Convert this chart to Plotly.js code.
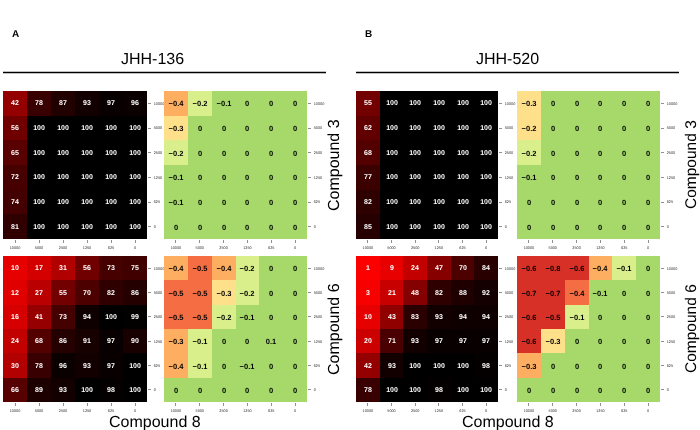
<!DOCTYPE html>
<html>
<head>
<meta charset="utf-8">
<script src="https://cdn.plot.ly/plotly-3.0.1.min.js"></script>
<style>
html,body{margin:0;padding:0;background:#fff;}
#chart{width:700px;height:430px;}
#chart .svg-container{will-change:transform;}
#chart svg text{text-rendering:geometricPrecision;}
</style>
</head>
<body>
<div id="chart"></div>
<script>
// ---- DATA ----
const doses = ['10000','5000','2500','1250','625','0'];   // tick labels (both axes)
const cellLines = ['JHH-136','JHH-520'];
const panelLetters = ['A','B'];
const rowCompounds = ['Compound 3','Compound 6'];
const colCompound = 'Compound 8';

// % inhibition (rows: Compound 3/6 dose from 10000 to 0, cols: Compound 8 dose 10000 to 0)
const viabA3 = [[42,78,87,93,97,96],[56,100,100,100,100,100],[65,100,100,100,100,100],[72,100,100,100,100,100],[74,100,100,100,100,100],[81,100,100,100,100,100]];
const viabA6 = [[10,17,31,56,73,75],[12,27,55,70,82,86],[16,41,73,94,100,99],[24,68,86,91,97,90],[30,78,96,93,97,100],[66,89,93,100,98,100]];
const viabB3 = [[55,100,100,100,100,100],[62,100,100,100,100,100],[68,100,100,100,100,100],[77,100,100,100,100,100],[82,100,100,100,100,100],[85,100,100,100,100,100]];
const viabB6 = [[1,9,24,47,70,84],[3,21,48,82,88,92],[10,43,83,93,94,94],[20,71,93,97,97,97],[42,93,100,100,100,98],[78,100,100,98,100,100]];

// synergy scores (printed values)
const synA3 = [[-0.4,-0.2,-0.1,0,0,0],[-0.3,0,0,0,0,0],[-0.2,0,0,0,0,0],[-0.1,0,0,0,0,0],[-0.1,0,0,0,0,0],[0,0,0,0,0,0]];
const synA6 = [[-0.4,-0.5,-0.4,-0.2,0,0],[-0.5,-0.5,-0.3,-0.2,0,0],[-0.5,-0.5,-0.2,-0.1,0,0],[-0.3,-0.1,0,0,0.1,0],[-0.4,-0.1,0,-0.1,0,0],[0,0,0,0,0,0]];
const synB3 = [[-0.3,0,0,0,0,0],[-0.2,0,0,0,0,0],[-0.2,0,0,0,0,0],[-0.1,0,0,0,0,0],[0,0,0,0,0,0],[0,0,0,0,0,0]];
const synB6 = [[-0.6,-0.8,-0.6,-0.4,-0.1,0],[-0.7,-0.7,-0.4,-0.1,0,0],[-0.6,-0.5,-0.1,0,0,0],[-0.6,-0.3,0,0,0,0],[-0.3,0,0,0,0,0],[0,0,0,0,0,0]];

// synergy colour class (0 = red ... 5 = green)
const synBinA3 = [[2,4,5,5,5,5],[3,5,5,5,5,5],[4,5,5,5,5,5],[5,5,5,5,5,5],[5,5,5,5,5,5],[5,5,5,5,5,5]];
const synBinA6 = [[2,1,2,4,5,5],[1,1,3,4,5,5],[1,1,4,5,5,5],[2,4,5,5,5,5],[2,4,5,5,5,5],[5,5,5,5,5,5]];
const synBinB3 = [[3,5,5,5,5,5],[3,5,5,5,5,5],[4,5,5,5,5,5],[5,5,5,5,5,5],[5,5,5,5,5,5],[5,5,5,5,5,5]];
const synBinB6 = [[0,0,0,2,4,5],[0,0,1,5,5,5],[0,0,4,5,5,5],[0,3,5,5,5,5],[2,5,5,5,5,5],[5,5,5,5,5,5]];

const synColors = ['#d73027','#f46d43','#fdae61','#fee08b','#d9ef8b','#a6d96a'];

// ---- LAYOUT HELPERS ----
const W = 700, H = 430;
const px = v => v / W;
const py = v => 1 - v / H;

const panels = [
  {viabX:[3,147], synX:[164,307], viab:[viabA3, viabA6], syn:[synA3, synA6], bins:[synBinA3, synBinA6]},
  {viabX:[356,498], synX:[517,660], viab:[viabB3, viabB6], syn:[synB3, synB6], bins:[synBinB3, synBinB6]}
];
const rowsY = [[91,239],[256,402]];

const fmtSyn = v => v === 0 ? '0' : (v < 0 ? '\u2212' + Math.abs(v) : String(v));

const synScale = [];
synColors.forEach((c, i) => {
  synScale.push([i / synColors.length, c]);
  synScale.push([(i + 1) / synColors.length, c]);
});

const traces = [];
const layout = {
  width: W, height: H,
  margin: {l:0, r:0, t:0, b:0},
  paper_bgcolor: '#fff', plot_bgcolor: '#fff',
  showlegend: false,
  font: {family: 'Liberation Sans, Arial, sans-serif', color: '#000'},
  annotations: [], shapes: []
};

let axN = 0;
function addAxis(xd, yd, trace) {
  axN++;
  const xk = axN === 1 ? 'xaxis' : 'xaxis' + axN;
  const yk = axN === 1 ? 'yaxis' : 'yaxis' + axN;
  const xr = axN === 1 ? 'x' : 'x' + axN;
  const yr = axN === 1 ? 'y' : 'y' + axN;
  const common = {
    type: 'category', showgrid: false, zeroline: false, showline: false,
    ticks: 'outside', ticklen: 3, tickwidth: 0.6, tickcolor: '#444',
    tickfont: {size: 3.8, color: '#333'}, fixedrange: true
  };
  layout[xk] = Object.assign({}, common, {domain: [px(xd[0]), px(xd[1])], anchor: yr, side: 'bottom',
    categoryorder: 'array', categoryarray: doses, ticklabelstandoff: 1});
  layout[yk] = Object.assign({}, common, {domain: [py(yd[1]), py(yd[0])], anchor: xr, side: 'right',
    categoryorder: 'array', categoryarray: doses.slice().reverse(), ticklabelstandoff: 2});
  trace.xaxis = xr; trace.yaxis = yr;
  traces.push(trace);
}

panels.forEach((p, pi) => {
  rowsY.forEach((yd, ri) => {
    addAxis(p.viabX, yd, {
      type: 'heatmap', x: doses, y: doses, z: p.viab[ri],
      zmin: 0, zmax: 100, colorscale: [[0,'#ff0000'],[1,'#000000']], showscale: false,
      text: p.viab[ri].map(r => r.map(String)), texttemplate: '%{text}',
      textfont: {color: '#ffffff', size: 7, family: 'Liberation Sans, Arial', weight: 'bold'},
      hoverinfo: 'skip'
    });
    addAxis(p.synX, yd, {
      type: 'heatmap', x: doses, y: doses, z: p.bins[ri],
      zmin: -0.5, zmax: synColors.length - 0.5, colorscale: synScale, showscale: false,
      text: p.syn[ri].map(r => r.map(fmtSyn)), texttemplate: '%{text}',
      textfont: {color: '#000000', size: 7.5, family: 'Liberation Sans, Arial', weight: 'bold'},
      hoverinfo: 'skip'
    });
  });
});

// titles, letters, rules
const offs = [0, 353];
offs.forEach((o, i) => {
  layout.annotations.push({xref:'paper', yref:'paper', x: px(15 + o), y: py(33), text: '<b>' + panelLetters[i] + '</b>',
    showarrow: false, font: {size: 10}, xanchor: 'center', yanchor: 'middle'});
  layout.annotations.push({xref:'paper', yref:'paper', x: px(152.5 + o + (i ? 2 : 0)), y: py(58), text: cellLines[i],
    showarrow: false, font: {size: 16}, xanchor: 'center', yanchor: 'middle'});
  layout.shapes.push({type: 'line', xref: 'paper', yref: 'paper', x0: px(3 + o), x1: px(326 + o), y0: py(72.5), y1: py(72.5),
    line: {color: '#000', width: 1.6}});
  const lblX = i ? 690 : 333;
  rowsY.forEach((yd, ri) => {
    layout.annotations.push({xref:'paper', yref:'paper', x: px(lblX), y: py((yd[0] + yd[1]) / 2), text: rowCompounds[ri],
      showarrow: false, font: {size: i ? 15.5 : 16}, textangle: -90, xanchor: 'center', yanchor: 'middle'});
  });
  const cx = (panels[i].viabX[0] + panels[i].synX[1]) / 2;
  layout.annotations.push({xref:'paper', yref:'paper', x: px(cx), y: py(421), text: colCompound,
    showarrow: false, font: {size: 16}, xanchor: 'center', yanchor: 'middle'});
});

Plotly.newPlot('chart', traces, layout, {displayModeBar: false, staticPlot: true});
</script>
</body>
</html>
